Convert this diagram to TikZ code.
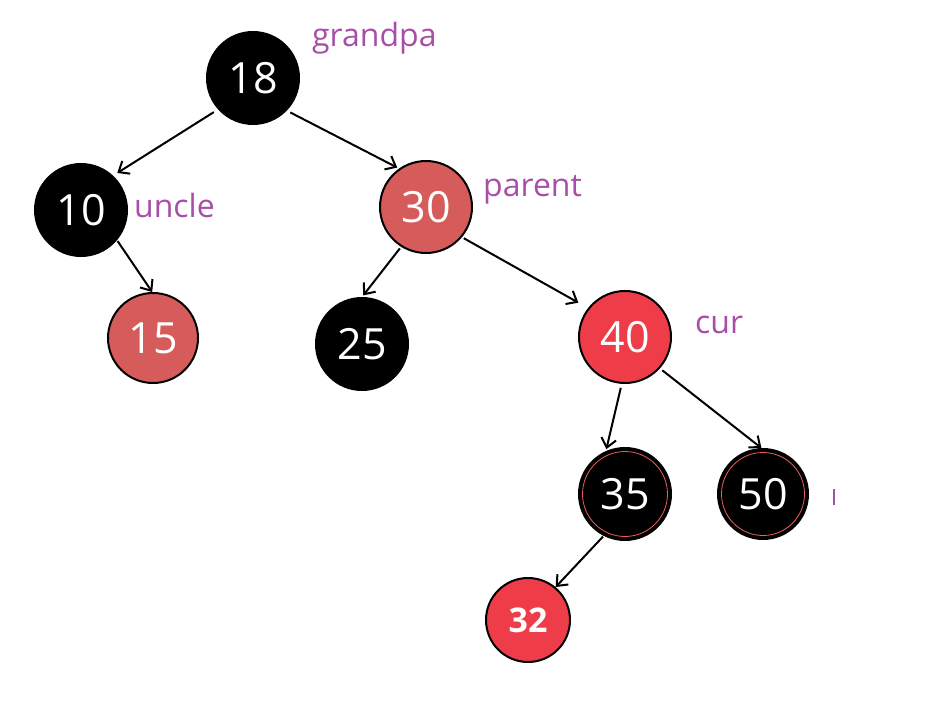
\documentclass[tikz,border=0pt]{standalone}
\usepackage{fontspec}
\setmainfont{Open Sans}
\usetikzlibrary{arrows.meta}
\definecolor{softred}{RGB}{214,92,92}
\definecolor{brightred}{RGB}{238,60,72}
\definecolor{lblpurple}{RGB}{168,78,168}
\definecolor{ringred}{RGB}{235,95,95}
\tikzset{
  rbnode/.style={circle, minimum size=92pt, inner sep=0pt, draw=black, line width=2pt,
    text=white, font=\fontsize{43}{45}\selectfont},
  blacknode/.style={rbnode, fill=black},
  softnode/.style={rbnode, fill=softred},
  brightnode/.style={rbnode, fill=brightred},
  lbl/.style={text=lblpurple, font=\fontsize{32}{34}\selectfont, inner sep=0pt},
  link/.style={draw=black, line width=2pt, -{Straight Barb[length=9pt,width=15pt,line width=2pt]}},
}
\begin{document}
\begin{tikzpicture}[x=1pt,y=-1pt]
\useasboundingbox (0,0) rectangle (932,706);
\node[blacknode] (n18) at (253,78) {18};
\node[blacknode] (n10) at (81,210) {10};
\node[softnode] (n30) at (426,207) {30};
\node[softnode, minimum size=90pt] (n15) at (153,338) {15};
\node[blacknode] (n25) at (362,344) {25};
\node[brightnode] (n40) at (625,337) {40};
\node[blacknode] (n35) at (625,494) {35};
\node[blacknode, minimum size=90pt] (n50) at (763,494) {50};
\node[brightnode, minimum size=84pt, font=\fontsize{34}{36}\selectfont\bfseries] (n32) at (528,620) {32};
% thin inner red rings
\draw[ringred, line width=0.8pt] (n35.center) circle[radius=42.5pt];
\draw[ringred, line width=0.8pt] (n50.center) circle[radius=41.5pt];
% labels
\node[lbl, anchor=west] (lgrand) at (312,38) {grandpa};
\node[lbl, anchor=west] (luncle) at (134,206) {uncle};
\node[lbl, anchor=west] (lparent) at (483,190) {parent};
\node[lbl, anchor=west] (lcur) at (695,325) {cur};
\coordinate (mk1) at (834,489);
\coordinate (mk2) at (834,505);
\draw[lblpurple, line width=1.5pt] (mk1) -- (mk2);
% connectors
\draw[link, shorten <=5pt, shorten >=5pt] (n18.222.6) -- (n10.47.4);
\draw[link, shorten <=4pt, shorten >=2pt] (n18.-44.2) -- (n30.125.7);
\draw[link, shorten <=1pt, shorten >=0pt] (n10.-40.7) -- (n15.91);
\draw[link, shorten <=2pt, shorten >=2pt] (n30.-122.4) -- (n25.90);
\draw[link, shorten <=2pt, shorten >=11pt] (n30.-40) -- (n40.142);
\draw[link, shorten <=4pt, shorten >=2pt] (n40.-94.6) -- (n35.114.4);
\draw[link, shorten <=3pt, shorten >=0pt] (n40.-42.5) -- (n50.92.7);
\draw[link, shorten <=1pt, shorten >=0pt] (n35.-117.6) -- (n32.50);
\end{tikzpicture}
\end{document}
